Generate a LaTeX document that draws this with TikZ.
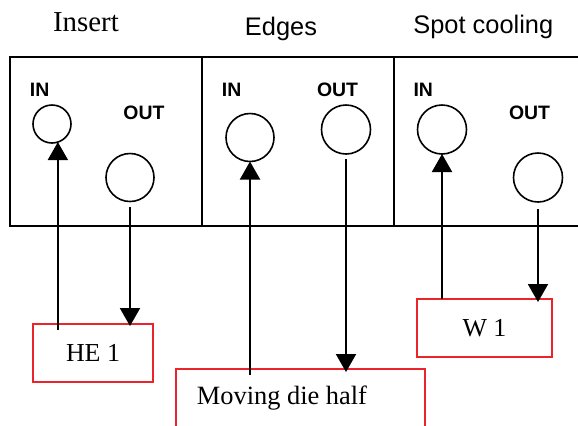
\documentclass[tikz,border=0pt]{standalone}
\usepackage{fontspec}
\setmainfont{Liberation Serif}
\newfontfamily\arialfont{Liberation Sans}
\usetikzlibrary{arrows.meta,calc}
\definecolor{boxred}{RGB}{235,35,42}
\begin{document}
\begin{tikzpicture}[x=1bp,y=-1bp,
  panel/.style={draw,line width=2bp,rectangle,inner sep=0pt,outer sep=0pt,minimum height=169bp},
  port/.style={draw,circle,line width=1.6bp,inner sep=0pt,outer sep=0pt},
  portlabel/.style={font=\arialfont\bfseries\fontsize{19.5}{22}\selectfont,anchor=base,inner sep=0pt},
  heading/.style={anchor=base,inner sep=0pt},
  redbox/.style={draw=boxred,line width=2bp,rectangle,inner sep=0pt,outer sep=0pt,font=\fontsize{26}{30}\selectfont},
  flow/.style={line width=2bp,-{Triangle[width=20bp,length=18bp]}}
]
\useasboundingbox (0,0) rectangle (578,425);
\fill[white] (0,0) rectangle (578,425);

% the three panels of the mould
\node[panel,minimum width=192bp] (panA) at (106,141.5) {};
\node[panel,minimum width=192bp] (panB) at (298,141.5) {};
\node[panel,minimum width=206bp] (panC) at (497,141.5) {};

% panel headings
\node[heading,font=\fontsize{29}{33}\selectfont] (tInsert) at (86,31.7) {Insert};
\node[heading,font=\arialfont\fontsize{25.5}{30}\selectfont] (tEdges) at (281,35) {Edges};
\node[heading,font=\arialfont\fontsize{25.5}{30}\selectfont] (tSpot) at (483.3,33.5) {Spot cooling};

% ports
\node[port,minimum size=38bp] (inA)  at (52,124) {};
\node[port,minimum size=48bp] (outA) at (130,177.5) {};
\node[port,minimum size=48bp] (inB)  at (250,137.5) {};
\node[port,minimum size=49bp] (outB) at (346,129.5) {};
\node[port,minimum size=49bp] (inC)  at (442,129.5) {};
\node[port,minimum size=49bp] (outC) at (538,177.5) {};

% port labels
\node[portlabel] (lInA)  at (39.7,96.7)  {IN};
\node[portlabel] (lOutA) at (144,119.3)  {OUT};
\node[portlabel] (lInB)  at (231.7,96.7) {IN};
\node[portlabel] (lOutB) at (337.5,96.7) {OUT};
\node[portlabel] (lInC)  at (423.3,96.7) {IN};
\node[portlabel] (lOutC) at (529.5,119)  {OUT};

% temperature control units
\node[redbox,minimum width=120bp,minimum height=58bp] (he1) at (93,353) {HE 1};
\node[redbox,minimum width=135bp,minimum height=58bp] (w1)  at (484.5,328) {W 1};
\node[redbox,minimum width=249bp,minimum height=80bp] (mov) at (300.5,409) {};
\node[anchor=base west,inner sep=0pt,font=\fontsize{26.5}{30}\selectfont] (movtext) at (196.7,404.3) {Moving die half};

% supply and return lines
\draw[flow] ($(he1.north -| inA.-72)+(0,6)$) -- (inA.-72);
\draw[flow] ($(outA.south)+(0,5.5)$) -- ($(he1.north -| outA.south)+(0,2)$);
\draw[flow] ($(mov.north -| inB.south)+(0,6)$) -- (inB.south);
\draw[flow] ($(outB.south)+(0,5)$) -- ($(mov.north -| outB.south)+(0,3)$);
\draw[flow] (w1.north -| inC.south) -- (inC.south);
\draw[flow] ($(outC.south)+(0,7)$) -- ($(w1.north -| outC.south)+(0,3)$);
\end{tikzpicture}
\end{document}
